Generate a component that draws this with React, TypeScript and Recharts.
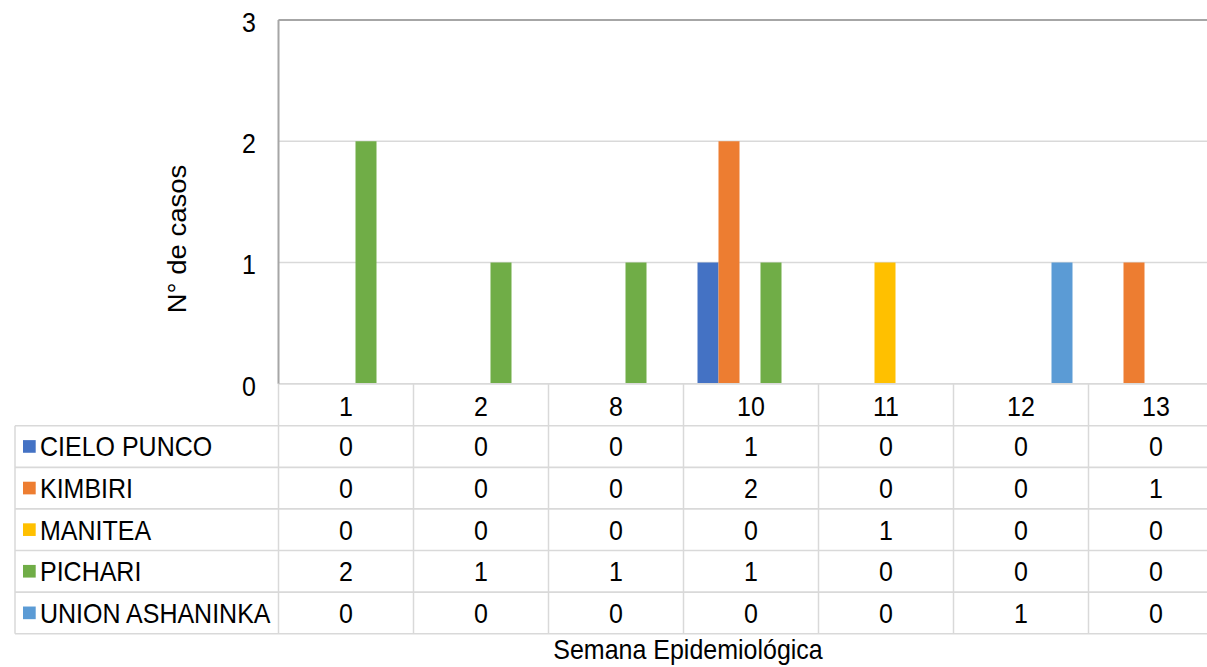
import React from "react";
import {
  BarChart,
  Bar,
  XAxis,
  YAxis,
  CartesianGrid,
  ReferenceLine,
  Customized,
} from "recharts";

// chart values
const weeks = ["1", "2", "8", "10", "11", "12", "13"];
const cieloPunco = [0, 0, 0, 1, 0, 0, 0];
const kimbiri = [0, 0, 0, 2, 0, 0, 1];
const manitea = [0, 0, 0, 0, 1, 0, 0];
const pichari = [2, 1, 1, 1, 0, 0, 0];
const unionAshaninka = [0, 0, 0, 0, 0, 1, 0];
const yTicks = [0, 1, 2, 3];

const series = [
  { key: "cielo", name: "CIELO PUNCO", color: "#4472C4", values: cieloPunco },
  { key: "kimbiri", name: "KIMBIRI", color: "#ED7D31", values: kimbiri },
  { key: "manitea", name: "MANITEA", color: "#FFC000", values: manitea },
  { key: "pichari", name: "PICHARI", color: "#70AD47", values: pichari },
  { key: "union", name: "UNION ASHANINKA", color: "#5B9BD5", values: unionAshaninka },
];

const data = weeks.map((week, i) => {
  const row: Record<string, string | number> = { week };
  series.forEach((s) => (row[s.key] = s.values[i]));
  return row;
});

// the original picture is stretched vertically, so the chart is laid out
// in unstretched units and scaled with a css transform
const SY = 1.1;
const FONT = '"Liberation Sans", Arial, sans-serif';
const FS = 25;
const CHART_W = 1230;
const CHART_H = 606;
const PLOT_LEFT = 278.5;
const CAT_W = 135;
const PLOT_RIGHT = PLOT_LEFT + CAT_W * weeks.length;
const PLOT_TOP = 20 / SY;
const PLOT_BOTTOM = 383.7 / SY;
const HEADER_BOTTOM = 425.7 / SY;
const ROW_H = 41.6 / SY;
const TABLE_BOTTOM = HEADER_BOTTOM + ROW_H * series.length;
const TABLE_LEFT = 15;
const LINE = "#d9d9d9";

function YTick(props: any) {
  const { y, payload } = props;
  return (
    <text x={256} y={y + 2 / SY} dy="0.36em" textAnchor="end" fill="#000"
      fontFamily={FONT} fontSize={FS}>
      {payload.value}
    </text>
  );
}

// one column of the data table under each category
function TableColumn(props: any) {
  const { x, payload } = props;
  const i = payload.index;
  const left = x - CAT_W / 2;
  const right = x + CAT_W / 2;
  return (
    <g>
      {i === 0 && (
        <line x1={left} x2={left} y1={PLOT_BOTTOM} y2={TABLE_BOTTOM} stroke={LINE} strokeWidth={1.5} />
      )}
      <line x1={right} x2={right} y1={PLOT_BOTTOM} y2={TABLE_BOTTOM} stroke={LINE} strokeWidth={1.5} />
      <text x={x} y={(PLOT_BOTTOM + HEADER_BOTTOM) / 2 + 1} dy="0.36em" textAnchor="middle"
        fill="#000" fontFamily={FONT} fontSize={FS}>
        {payload.value}
      </text>
      {series.map((s, r) => (
        <text key={s.key} x={x} y={HEADER_BOTTOM + ROW_H * r + ROW_H / 2} dy="0.36em"
          textAnchor="middle" fill="#000" fontFamily={FONT} fontSize={FS}>
          {s.values[i]}
        </text>
      ))}
    </g>
  );
}

function TableFrame() {
  return (
    <g>
      {series.map((_, r) => (
        <line key={r} x1={TABLE_LEFT} x2={PLOT_RIGHT} y1={HEADER_BOTTOM + ROW_H * r}
          y2={HEADER_BOTTOM + ROW_H * r} stroke={LINE} strokeWidth={1.5} />
      ))}
      <line x1={TABLE_LEFT} x2={PLOT_RIGHT} y1={TABLE_BOTTOM} y2={TABLE_BOTTOM} stroke={LINE} strokeWidth={1.5} />
      <line x1={TABLE_LEFT} x2={TABLE_LEFT} y1={HEADER_BOTTOM} y2={TABLE_BOTTOM} stroke={LINE} strokeWidth={1.5} />
      {series.map((s, r) => {
        const cy = HEADER_BOTTOM + ROW_H * r + ROW_H / 2;
        return (
          <g key={s.key}>
            <rect x={23} y={cy - 5.8} width={12.7} height={11.5} fill={s.color} />
            <text x={40} y={cy} dy="0.36em" fill="#000" fontFamily={FONT} fontSize={FS}>
              {s.name}
            </text>
          </g>
        );
      })}
      <text x={688} y={659.3 / SY} textAnchor="middle" fill="#000" fontFamily={FONT} fontSize={FS}>
        Semana Epidemiológica
      </text>
      <text x={176.7} y={239 / SY} dy="0.36em" textAnchor="middle" fill="#000"
        fontFamily={FONT} fontSize={FS} transform={`rotate(-90 176.7 ${239 / SY})`}>
        N° de casos
      </text>
    </g>
  );
}

export default function App() {
  return (
    <div
      style={{
        position: "absolute",
        left: 0,
        top: 0,
        width: 1207,
        height: CHART_H,
        overflow: "hidden",
        background: "#fff",
        transform: `scaleY(${SY})`,
        transformOrigin: "0 0",
      }}
    >
      <BarChart
        width={CHART_W}
        height={CHART_H}
        data={data}
        margin={{ top: PLOT_TOP, right: CHART_W - PLOT_RIGHT, bottom: 0, left: 0 }}
        barCategoryGap={14}
        barGap={0}
      >
        <CartesianGrid vertical={false} stroke={LINE} strokeWidth={1.5} />
        <ReferenceLine y={3} stroke="#a6a6a6" strokeWidth={2} />
        <XAxis
          dataKey="week"
          height={CHART_H - PLOT_BOTTOM}
          interval={0}
          tickLine={false}
          axisLine={{ stroke: LINE, strokeWidth: 1.5 }}
          tick={<TableColumn />}
        />
        <YAxis
          width={PLOT_LEFT}
          domain={[0, 3]}
          ticks={yTicks}
          tickLine={false}
          axisLine={{ stroke: "#a6a6a6", strokeWidth: 2 }}
          tick={<YTick />}
        />
        {series.map((s) => (
          <Bar key={s.key} dataKey={s.key} name={s.name} fill={s.color} isAnimationActive={false} />
        ))}
        <Customized component={<TableFrame />} />
      </BarChart>
    </div>
  );
}
